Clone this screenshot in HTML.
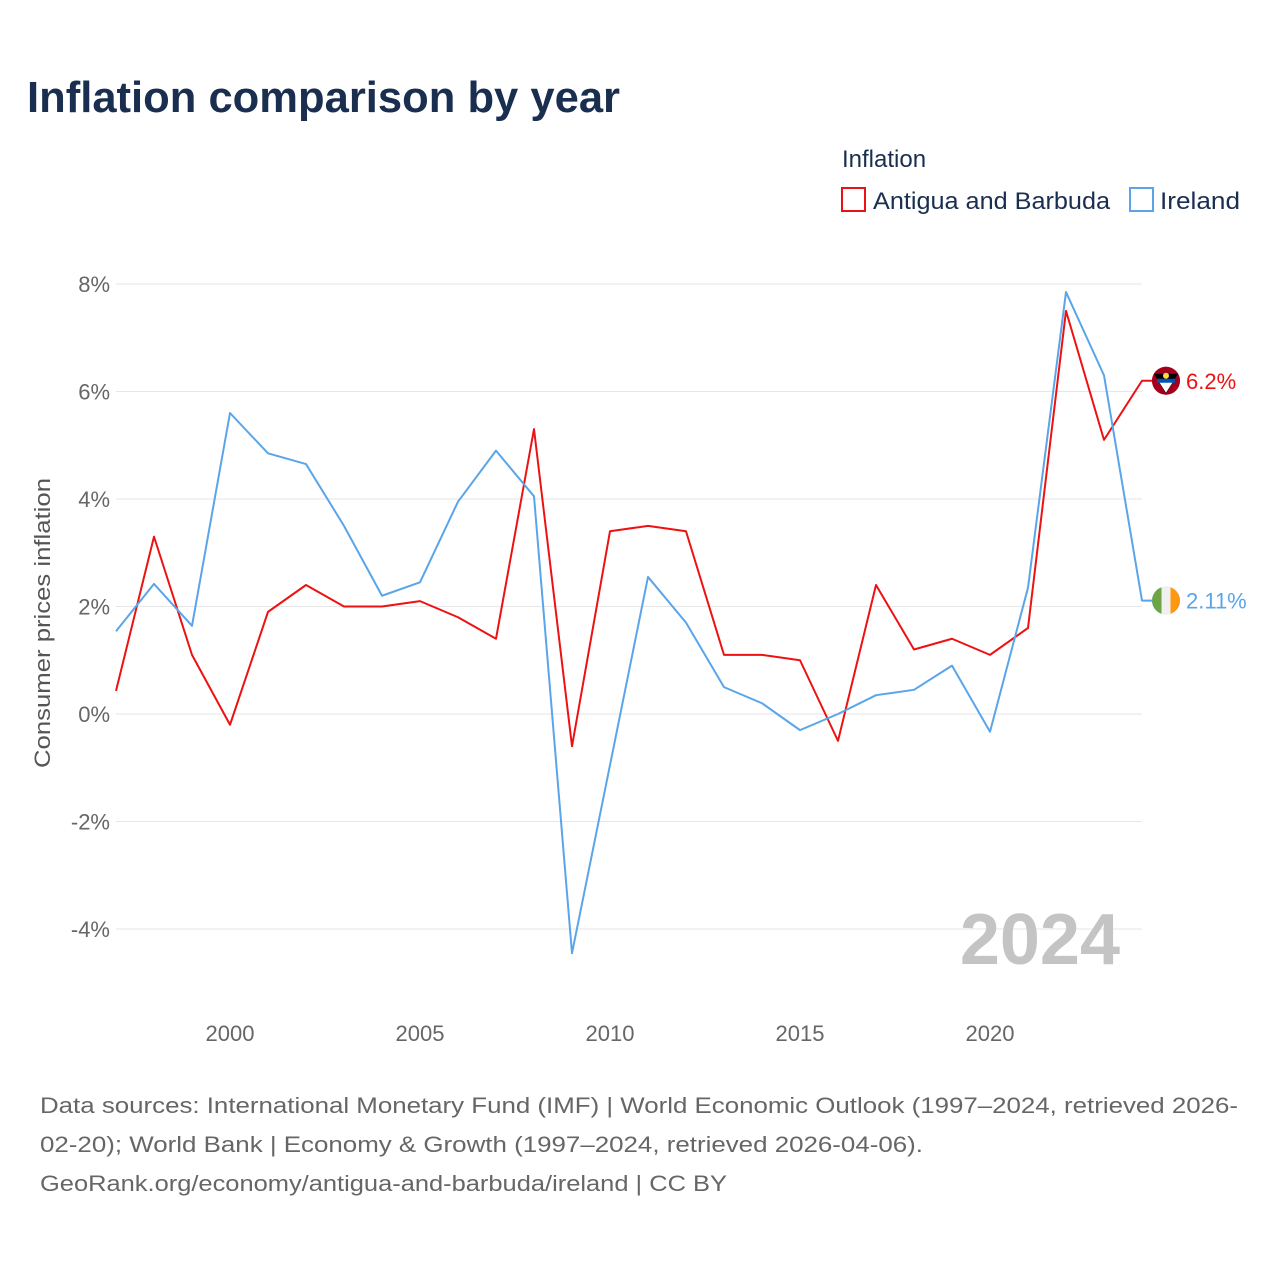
<!DOCTYPE html>
<html><head><meta charset="utf-8"><style>
body{margin:0;background:#fff;width:1280px;height:1280px;overflow:hidden;font-family:"Liberation Sans",sans-serif}
</style></head><body>
<svg width="1280" height="1280" viewBox="0 0 1280 1280" style="font-family:'Liberation Sans',sans-serif">
<text x="27" y="112" font-size="44" font-weight="600" fill="#1a2e4f" textLength="593" lengthAdjust="spacingAndGlyphs">Inflation comparison by year</text>
<text x="842" y="167" font-size="24" fill="#1a2e4f">Inflation</text>
<g><rect x="842" y="188" width="23" height="23" fill="#fff" stroke="#ee1111" stroke-width="2"/><text x="873" y="209" font-size="24" fill="#1a2e4f" textLength="237" lengthAdjust="spacingAndGlyphs">Antigua and Barbuda</text></g>
<g><rect x="1130" y="188" width="23" height="23" fill="#fff" stroke="#5aa5ea" stroke-width="2"/><text x="1160" y="209" font-size="24" fill="#1a2e4f" textLength="80" lengthAdjust="spacingAndGlyphs">Ireland</text></g>
<g id="grid"></g><g id="xt"></g><g id="lines"></g><g id="ends"></g>
<text x="1120" y="964" font-size="72" font-weight="bold" fill="#c4c4c4" text-anchor="end">2024</text>
<text transform="translate(50,623) rotate(-90)" font-size="22" fill="#555" text-anchor="middle" textLength="290" lengthAdjust="spacingAndGlyphs">Consumer prices inflation</text>
<g font-size="22" fill="#666">
<text x="40" y="1113" textLength="1198" lengthAdjust="spacingAndGlyphs">Data sources: International Monetary Fund (IMF) | World Economic Outlook (1997–2024, retrieved 2026-</text>
<text x="40" y="1152" textLength="883" lengthAdjust="spacingAndGlyphs">02-20); World Bank | Economy &amp; Growth (1997–2024, retrieved 2026-04-06).</text>
<text x="40" y="1191" textLength="687" lengthAdjust="spacingAndGlyphs">GeoRank.org/economy/antigua-and-barbuda/ireland | CC BY</text>
</g>
</svg>
<script>
const years=[1997,1998,1999,2000,2001,2002,2003,2004,2005,2006,2007,2008,2009,2010,2011,2012,2013,2014,2015,2016,2017,2018,2019,2020,2021,2022,2023,2024];
const antigua=[0.43,3.3,1.1,-0.2,1.9,2.4,2.0,2.0,2.1,1.8,1.4,5.3,-0.6,3.4,3.5,3.4,1.1,1.1,1.0,-0.5,2.4,1.2,1.4,1.1,1.6,7.5,5.1,6.2];
const ireland=[1.54,2.42,1.64,5.6,4.85,4.65,3.5,2.2,2.45,3.95,4.9,4.05,-4.45,-0.95,2.55,1.7,0.5,0.2,-0.3,0.0,0.35,0.45,0.9,-0.33,2.35,7.85,6.3,2.11];
const yTicks=[8,6,4,2,0,-2,-4];
const xTicks=[2000,2005,2010,2015,2020];
const NS="http://www.w3.org/2000/svg";
const x=v=>116+(v-1997)*38, y=v=>714-v*53.75;
function mk(t,a,p){const e=document.createElementNS(NS,t);for(const k in a)e.setAttribute(k,a[k]);p.appendChild(e);return e;}
const g=document.getElementById('grid');
yTicks.forEach(t=>{
 const l=mk('line',{x1:116,x2:1142,y1:y(t),y2:y(t),stroke:'#e6e6e6','stroke-width':1},g);
 
 
 const tx=mk('text',{x:110,y:y(t)+8,'font-size':22,fill:'#666','text-anchor':'end'},g);
 tx.textContent=t+'%';
 
 
});
const xg=document.getElementById('xt');
xTicks.forEach(t=>{
 const tx=mk('text',{x:x(t),y:1041,'font-size':22,fill:'#666','text-anchor':'middle'},xg);
 tx.textContent=t;
 
 
});
const lg=document.getElementById('lines'), eg=document.getElementById('ends');
function series(vals,col,name,label){
 const last=vals[vals.length-1];
 const pts=vals.map((v,i)=>x(years[i])+','+y(v)).join(' ')+' '+(x(2024)+10)+','+y(last);
 const p=mk('polyline',{points:pts,fill:'none',stroke:col,'stroke-width':2,'stroke-linejoin':'round'},lg);
 
 
 const c=mk('circle',{cx:x(2024)+24,cy:y(last),r:14,fill:col},eg);
 
 
 const t=mk('text',{x:x(2024)+44,y:y(last)+8,'font-size':22,fill:col},eg);
 t.textContent=label;
 
 
 return c;
}
series(antigua,'#ee1111','antigua','6.2%');
series(ireland,'#5aa5ea','ireland','2.11%');
const cx=x(2024)+24, cy=y(ireland[ireland.length-1]);
const f1=mk('path',{d:`M${cx-4.5},${cy-13.2} A14,14 0 0,0 ${cx-4.5},${cy+13.2} Z`,fill:'#6da544'},eg);


const f2=mk('rect',{x:cx-4.5,y:cy-14,width:9,height:28,fill:'#f0f0f0'},eg);


const f3=mk('path',{d:`M${cx+4.5},${cy-13.2} A14,14 0 0,1 ${cx+4.5},${cy+13.2} Z`,fill:'#ff9811'},eg);


const ay=y(antigua[antigua.length-1]);
const a1=mk('circle',{cx:cx,cy:ay,r:14,fill:'#a2001d'},eg);


const a2=mk('path',{d:`M${cx-12},${ay-7} L${cx+12},${ay-7} L${cx},${ay+13} Z`,fill:'#000'},eg);


const a3=mk('path',{d:`M${cx-7},${ay+1} L${cx+7},${ay+1} L${cx},${ay+12} Z`,fill:'#fff'},eg);


const a4=mk('rect',{x:cx-9,y:ay-2,width:18,height:4,fill:'#0052b4'},eg);


const a5=mk('circle',{cx:cx,cy:ay-5,r:3,fill:'#ffda44'},eg);


</script>
</body></html>
